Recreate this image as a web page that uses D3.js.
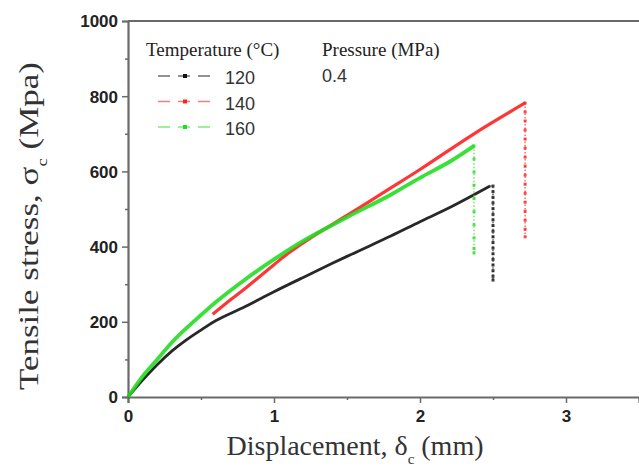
<!DOCTYPE html>
<html><head><meta charset="utf-8">
<script src="https://cdn.jsdelivr.net/npm/d3@7"></script>
<style>body{margin:0;background:#fff}svg{display:block}</style>
</head><body>
<svg id="c" width="639" height="472"></svg>
<script>
// ---- data ----
const xTicks = [0, 1, 2, 3];
const yTicks = [0, 200, 400, 600, 800, 1000];
const seriesNames = ["120", "140", "160"];
const seriesColors = ["#111111", "#ff2020", "#22dd22"];
const disp120 = [0, 0.1, 0.2, 0.3, 0.4, 0.5, 0.6, 0.8, 0.9, 1.0, 1.2, 1.5, 1.8, 2.0, 2.2, 2.48];
const stress120 = [0, 45, 86, 122, 152, 178, 203, 240, 260, 280, 318, 374, 428, 466, 503, 561];
const disp140 = [0.58, 0.7, 0.8, 0.9, 1.0, 1.1, 1.27, 1.5, 1.8, 2.0, 2.37, 2.72];
const stress140 = [220, 258, 288, 320, 352, 383, 428, 483, 556, 605, 700, 782];
const disp160 = [0, 0.1, 0.2, 0.3, 0.4, 0.5, 0.6, 0.8, 1.0, 1.2, 1.5, 1.8, 2.0, 2.2, 2.37];
const stress160 = [0, 55, 100, 145, 183, 218, 252, 312, 366, 415, 478, 538, 583, 625, 668];
const drop120x = 2.50;
const drop120 = [561, 546, 531, 516, 501, 486, 471, 456, 441, 426, 411, 396, 381, 366, 351, 336, 321, 311];
const drop140x = 2.72;
const drop140 = [782, 758, 734, 710, 686, 662, 638, 614, 590, 566, 542, 518, 494, 470, 446, 426];
const drop160x = 2.37;
const drop160 = [668, 633, 598, 563, 528, 493, 458, 423, 395, 383];

const svg = d3.select("#c");
const x = d3.scaleLinear().domain([0, 3.5]).range([128, 639]);
const y = d3.scaleLinear().domain([0, 1000]).range([397, 21]);
const axisCol = "#6a6a6a";

// axes
const gx = svg.append("g").attr("transform", "translate(0,397)")
  .call(d3.axisBottom(x).tickValues(xTicks).tickSize(6).tickFormat(d3.format("d")));
svg.append("g").attr("transform", "translate(0,397)")
  .call(d3.axisBottom(x).tickValues([0.5, 1.5, 2.5, 3.5]).tickSize(3).tickFormat(""))
  .call(g => g.select(".domain").remove());
const gy = svg.append("g").attr("transform", "translate(128,0)")
  .call(d3.axisLeft(y).tickValues(yTicks).tickSize(6).tickFormat(d3.format("d")));
svg.append("g").attr("transform", "translate(128,0)")
  .call(d3.axisLeft(y).tickValues([100, 300, 500, 700, 900]).tickSize(3).tickFormat(""))
  .call(g => g.select(".domain").remove());
svg.selectAll(".domain").attr("stroke", axisCol).attr("stroke-width", 2.2);
svg.selectAll(".tick line").attr("stroke", axisCol).attr("stroke-width", 1.5);
svg.selectAll(".tick text").attr("fill", "#222").style("font-family", "Arial, 'Liberation Sans', sans-serif")
  .style("font-weight", "bold").style("font-size", "17px");
gx.selectAll(".tick text").attr("dy", "0.95em");
gy.selectAll(".tick text").attr("dx", "-1px").attr("dy", "0.35em");
// top frame line
svg.append("line").attr("x1", x(0)).attr("x2", x(3.5)).attr("y1", y(1000)).attr("y2", y(1000))
  .attr("stroke", axisCol).attr("stroke-width", 2);

// series
const line = d3.line().x(d => x(d[0])).y(d => y(d[1])).curve(d3.curveCatmullRom.alpha(0.5));
const series = [
  {xs: disp120, ys: stress120, dx: drop120x, drop: drop120, w: 2.8},
  {xs: disp140, ys: stress140, dx: drop140x, drop: drop140, w: 3.2},
  {xs: disp160, ys: stress160, dx: drop160x, drop: drop160, w: 3.8}
];
series.forEach((s, i) => {
  const col = seriesColors[i];
  const pts = s.xs.map((v, k) => [v, s.ys[k]]);
  svg.append("path").datum(pts).attr("d", line)
    .attr("fill", "none").attr("stroke", col).attr("stroke-width", s.w).attr("stroke-opacity", 0.9);
  const last = pts[pts.length - 1];
  const dropPts = s.drop.map(v => [s.dx, v]);
  svg.append("path").datum([last].concat(dropPts)).attr("d", d3.line().x(d => x(d[0])).y(d => y(d[1])))
    .attr("fill", "none").attr("stroke", col).attr("stroke-width", 1.4).attr("stroke-dasharray", "1.5,2").attr("stroke-opacity", 0.7);
  svg.append("g").selectAll("rect").data(dropPts).join("rect")
    .attr("x", d => x(d[0]) - 1.5).attr("y", d => y(d[1]) - 1.5).attr("width", 3).attr("height", 3)
    .attr("fill", col).attr("opacity", 0.8);
});

// legend
const serif = "'Liberation Serif', 'Times New Roman', serif";
const sans = "Arial, 'Liberation Sans', sans-serif";
svg.append("text").attr("x", 146).attr("y", 56).text("Temperature (\u00B0C)")
  .style("font-family", serif).style("font-size", "19px").attr("fill", "#222");
svg.append("text").attr("x", 322).attr("y", 56).text("Pressure (MPa)")
  .style("font-family", serif).style("font-size", "19px").attr("fill", "#222");
svg.append("text").attr("x", 322).attr("y", 82).text("0.4")
  .style("font-family", sans).style("font-size", "18px").attr("fill", "#333");
seriesNames.forEach((nm, i) => {
  const ly = 76 + i * 25.5;
  const col = seriesColors[i];
  svg.append("line").attr("x1", 158).attr("x2", 218).attr("y1", ly).attr("y2", ly)
    .attr("stroke", col).attr("stroke-width", 1.4).attr("stroke-dasharray", "12,8").attr("stroke-opacity", 0.6);
  svg.append("rect").attr("x", 183).attr("y", ly - 2).attr("width", 4).attr("height", 4).attr("fill", col);
  svg.append("text").attr("x", 225).attr("y", ly + 8).text(nm)
    .style("font-family", sans).style("font-size", "18px").attr("fill", "#333");
});

// axis titles
const xt = svg.append("text").attr("x", 355).attr("y", 455).attr("text-anchor", "middle")
  .style("font-family", serif).style("font-size", "28px").attr("fill", "#333");
xt.append("tspan").text("Displacement, \u03B4");
xt.append("tspan").text("c").attr("dy", 9).style("font-size", "15px");
xt.append("tspan").text(" (mm)").attr("dy", -9);
const yt = svg.append("text").attr("transform", "translate(38,226) rotate(-90) scale(1.25,1)").attr("text-anchor", "middle")
  .style("font-family", serif).style("font-size", "28px").attr("fill", "#333");
yt.append("tspan").text("Tensile stress, \u03C3");
yt.append("tspan").text("c").attr("dy", 9).style("font-size", "15px");
yt.append("tspan").text(" (Mpa)").attr("dy", -9);
</script>
</body></html>
